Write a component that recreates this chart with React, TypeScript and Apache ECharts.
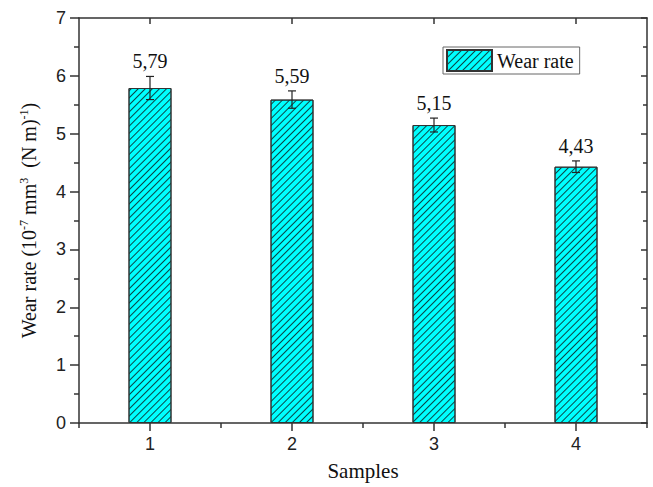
import React, { useEffect, useRef } from "react";
import * as echarts from "echarts";

const categories = ["1", "2", "3", "4"];
const wearRates = [5.79, 5.59, 5.15, 4.43];
const errors = [0.2, 0.15, 0.12, 0.1];
const valueLabels = ["5,79", "5,59", "5,15", "4,43"];
const yTicks = { min: 0, max: 7, interval: 1 };

const SERIF = "Liberation Serif, Times New Roman, serif";
const SANS = "Liberation Sans, Arial, sans-serif";
const LINE = "#333";

export default function App() {
  const ref = useRef<HTMLDivElement>(null);
  useEffect(() => {
    if (!ref.current) return;
    const chart = echarts.init(ref.current, null, { renderer: "svg" });
    const decal = {
      symbol: "rect",
      symbolSize: 1,
      dashArrayX: [1, 0],
      dashArrayY: [1, 3.6],
      rotation: -Math.PI / 4,
      color: "rgba(10,50,50,0.9)",
    };
    const baseX = {
      type: "category",
      data: categories,
      boundaryGap: true,
    };
    chart.setOption({
      animation: false,
      backgroundColor: "#fff",
      grid: { left: 79, right: 6, top: 18, bottom: 64, containLabel: false },
      legend: {
        data: [{ name: "Wear rate", icon: "rect" }],
        left: 443,
        top: 47,
        orient: "horizontal",
        borderColor: "#666",
        borderWidth: 1,
        borderRadius: 0,
        padding: [2, 6, 2, 3],
        itemWidth: 45,
        itemHeight: 21,
        itemGap: 6,
        textStyle: { fontFamily: SERIF, fontSize: 20, color: "#111" },
      },
      xAxis: [
        {
          ...baseX,
          position: "bottom",
          name: "Samples",
          nameLocation: "middle",
          nameGap: 37,
          nameTextStyle: { fontFamily: SERIF, fontSize: 21, color: "#111" },
          axisLine: { show: true, lineStyle: { color: LINE, width: 1.5 } },
          axisTick: { show: true, alignWithLabel: true, length: 8, lineStyle: { color: LINE, width: 1.5 } },
          axisLabel: { fontFamily: SANS, fontSize: 18, color: "#222", margin: 12 },
          splitLine: { show: false },
        },
        {
          ...baseX,
          position: "bottom",
          axisLine: { show: false },
          axisTick: { show: true, alignWithLabel: false, length: 5, lineStyle: { color: LINE, width: 1.5 } },
          axisLabel: { show: false },
          splitLine: { show: false },
        },
        {
          ...baseX,
          position: "top",
          axisLine: { show: true, lineStyle: { color: LINE, width: 1.5 } },
          axisTick: { show: true, inside: true, alignWithLabel: true, length: 6, lineStyle: { color: LINE, width: 1.5 } },
          axisLabel: { show: false },
          splitLine: { show: false },
        },
      ],
      yAxis: [
        {
          type: "value",
          position: "left",
          min: yTicks.min,
          max: yTicks.max,
          interval: yTicks.interval,
          name: "Wear rate (10{sup|-7} mm{sup|3}  (N m){sup|-1})",
          nameLocation: "middle",
          nameGap: 40,
          nameTextStyle: {
            fontFamily: SERIF,
            fontSize: 20,
            color: "#111",
            rich: {
              sup: { fontFamily: SERIF, fontSize: 12, color: "#111", verticalAlign: "top", padding: [0, 0, 9, 0] },
            },
          },
          axisLine: { show: true, lineStyle: { color: LINE, width: 1.5 } },
          axisTick: { show: true, length: 9, lineStyle: { color: LINE, width: 1.5 } },
          minorTick: { show: true, splitNumber: 2, length: 5, lineStyle: { color: LINE, width: 1.5 } },
          axisLabel: { fontFamily: SANS, fontSize: 18, color: "#222", margin: 13 },
          splitLine: { show: false },
          minorSplitLine: { show: false },
        },
        {
          type: "value",
          position: "right",
          min: yTicks.min,
          max: yTicks.max,
          interval: yTicks.interval,
          axisLine: { show: true, lineStyle: { color: LINE, width: 1.5 } },
          axisTick: { show: true, inside: true, length: 6, lineStyle: { color: LINE, width: 1.5 } },
          minorTick: { show: true, splitNumber: 2, length: 4, lineStyle: { color: LINE, width: 1.5 } },
          axisLabel: { show: false },
          splitLine: { show: false },
        },
      ],
      series: [
        {
          name: "Wear rate",
          type: "bar",
          xAxisIndex: 0,
          yAxisIndex: 0,
          data: wearRates,
          barWidth: 43,
          itemStyle: {
            color: "#00ffff",
            borderColor: "#333",
            borderWidth: 1,
            decal,
          },
        },
        {
          name: "err",
          type: "custom",
          xAxisIndex: 0,
          yAxisIndex: 0,
          data: wearRates.map((v, i) => [i, v, errors[i]]),
          z: 10,
          renderItem: (params: any, api: any) => {
            const i = api.value(0);
            const v = api.value(1);
            const e = api.value(2);
            const top = api.coord([i, v + e]);
            const bot = api.coord([i, v - e]);
            const x = top[0];
            const cap = 4;
            const style = { stroke: "#222", lineWidth: 1.2 };
            return {
              type: "group",
              children: [
                { type: "line", shape: { x1: x, y1: top[1], x2: x, y2: bot[1] }, style },
                { type: "line", shape: { x1: x - cap, y1: top[1], x2: x + cap, y2: top[1] }, style },
                { type: "line", shape: { x1: x - cap, y1: bot[1], x2: x + cap, y2: bot[1] }, style },
                {
                  type: "text",
                  x,
                  y: top[1] - 5,
                  style: {
                    text: valueLabels[params.dataIndex],
                    fontFamily: SERIF,
                    fontSize: 20,
                    fill: "#111",
                    align: "center",
                    verticalAlign: "bottom",
                  },
                },
              ],
            };
          },
        },
      ],
    });
    return () => chart.dispose();
  }, []);
  return <div ref={ref} style={{ width: 653, height: 487, position: "absolute", left: 0, top: 0 }} />;
}
